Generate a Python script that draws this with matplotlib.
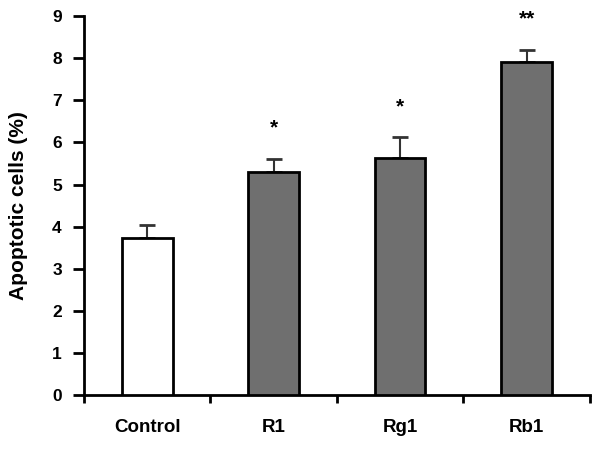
import matplotlib
matplotlib.use("Agg")
import matplotlib.pyplot as plt
import numpy as np

categories = ["Control", "R1", "Rg1", "Rb1"]
values = [3.72, 5.30, 5.64, 7.91]
errors = [0.32, 0.30, 0.48, 0.28]
stars = ["", "*", "*", "**"]
star_y = [None, 6.35, 6.85, 8.93]
colors = ["white", "#6f6f6f", "#6f6f6f", "#6f6f6f"]

plt.rcParams['font.family'] = ['Liberation Sans', 'DejaVu Sans']
fig = plt.figure(figsize=(6.0, 4.49), dpi=100)
ax = fig.add_axes([0.14, 0.12, 0.843, 0.844])

x = np.arange(len(categories))
ax.bar(x, values, width=0.4, color=colors, edgecolor="black", linewidth=2, zorder=3)
ax.errorbar(x, values, yerr=[np.zeros(len(values)), errors], fmt="none",
            ecolor="#333333", elinewidth=1.5, capsize=6, capthick=2, zorder=2)
for xi, s, sy in zip(x, stars, star_y):
    if s:
        ax.text(xi, sy, s, ha="center", va="center", fontsize=15, fontweight="bold")

ax.set_xlim(-0.5, len(categories) - 0.5)
ax.set_ylim(0, 9)
ax.set_yticks(range(0, 10))
ax.set_xticks(x)
ax.set_xticklabels(categories, fontsize=13.5, fontweight="bold")
ax.set_xticks(np.arange(-0.5, len(categories)), minor=True)
ax.tick_params(axis="x", which="major", length=0, pad=17)
ax.tick_params(axis="x", which="minor", length=6, width=2, direction="out")
ax.tick_params(axis="y", length=8, width=2, labelsize=12.5, direction="out", pad=8)
for lbl in ax.get_yticklabels():
    lbl.set_fontweight("bold")
ax.set_ylabel("Apoptotic cells (%)", fontsize=15, fontweight="bold", labelpad=17)

for side in ["top", "right"]:
    ax.spines[side].set_visible(False)
for side in ["left", "bottom"]:
    ax.spines[side].set_linewidth(2)

fig.savefig("out.png", dpi=100)
